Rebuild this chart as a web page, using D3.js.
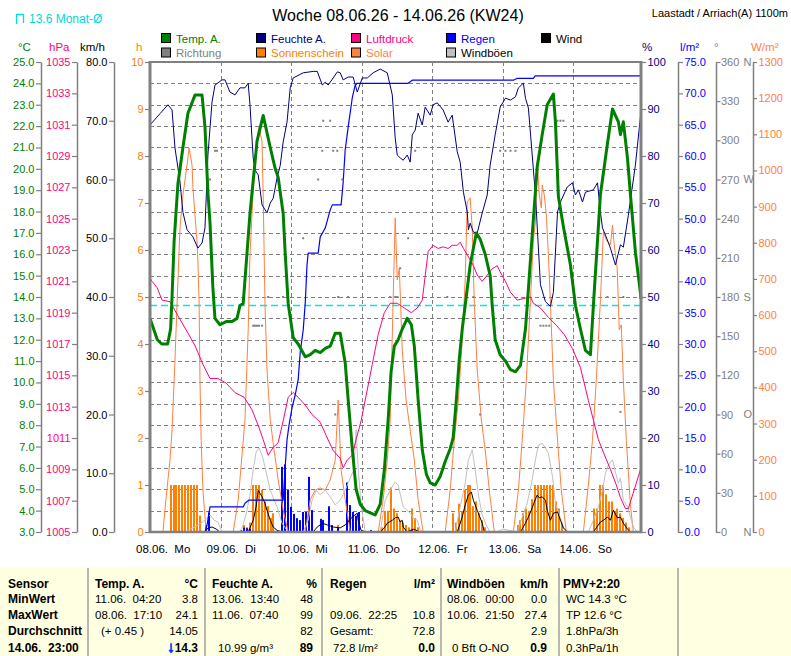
<!DOCTYPE html>
<html><head><meta charset="utf-8">
<script src="https://cdn.jsdelivr.net/npm/d3@7"></script>
<style>
body{margin:0;background:#fff}
svg{display:block}
text{font-family:"Liberation Sans",Arial,sans-serif;white-space:pre}
</style>
</head><body>
<svg id="c" width="791" height="656"></svg>
<script>
// ---------------- DATA ----------------
const dayLabels = ["08.06.  Mo","09.06.  Di","10.06.  Mi","11.06.  Do","12.06.  Fr","13.06.  Sa","14.06.  So"];
const tempTicks = d3.range(3, 25.001, 1);
const hpaTicks = d3.range(1005, 1035.001, 2);
const kmhTicks = d3.range(0, 80.001, 10);
const sunTicks = d3.range(0, 10.001, 1);
const humTicks = d3.range(0, 100.001, 10);
const rainTicks = d3.range(0, 75.001, 5);
const dirTicks = d3.range(0, 360.001, 30);
const solTicks = d3.range(0, 1300.001, 100);
const dirLetters = [[360,"N"],[270,"W"],[180,"S"],[90,"O"],[0,"N"]];
const monthAvgTemp = 13.6;

// [hour since 08.06. 00:00, value]
const tempA = [[0,13.0],[1,12.6],[2.5,12.0],[4,11.8],[6,11.8],[7,12.5],[7.5,14.0],[8.2,16.6],[9.5,19.3],[11.2,21.0],[12.9,22.6],[15.3,23.45],[17.7,23.45],[18.7,21.95],[19.7,18.9],[20.4,17.5],[21.4,14.4],[22.1,13.0],[23.8,12.7],[25.9,12.85],[27.9,12.85],[29.6,13.0],[30.6,13.6],[31.7,13.7],[34.0,17.9],[36.4,21.3],[38.5,22.5],[40.9,21.0],[42.6,20.0],[43.6,19.6],[45.3,17.9],[46.0,16.0],[47.0,13.7],[48.7,12.1],[50.4,11.8],[52.8,11.2],[54.5,11.3],[56.2,11.5],[57.9,11.4],[59.6,11.6],[61.3,11.7],[63.0,12.3],[64.7,12.3],[66.4,10.9],[67.4,9.2],[68.8,6.9],[70.1,5.0],[71.5,4.3],[73.2,4.0],[74.9,3.9],[76.6,3.8],[78.3,4.3],[79.7,5.9],[81.0,8.25],[82.0,10.5],[83.1,11.7],[84.4,12.0],[85.8,12.5],[87.5,13.0],[88.9,12.7],[89.9,11.7],[91.2,9.2],[92.6,6.85],[94.0,5.7],[95.3,5.3],[97.0,5.2],[98.7,5.6],[100.4,6.3],[102.1,6.9],[103.1,7.4],[104.2,9.2],[105.2,11.1],[106.2,12.5],[107.2,13.6],[108.9,15.5],[111.0,17.0],[112.3,16.7],[114.0,16.0],[115.7,15.0],[116.4,13.6],[117.4,12.0],[119.1,11.3],[120.9,11.0],[122.6,10.6],[124.3,10.5],[126.0,10.8],[127.7,12.5],[128.3,13.6],[130.0,16.9],[131.7,20.1],[133.4,21.6],[135.1,23.0],[137.2,23.5],[137.9,22.2],[138.9,18.7],[140.6,17.3],[143.0,15.5],[144.7,13.6],[146.4,12.5],[148.1,11.5],[149.8,11.3],[150.8,13.6],[153.2,18.8],[155.6,21.2],[157.3,22.8],[159.3,22.2],[160.0,21.6],[161.0,22.2],[162.4,20.5],[163.4,18.8],[165.1,16.1],[166.8,14.2],[167,13.9]];

const humidity = [[0,86.6],[3.4,89],[6.1,90.9],[7.5,89.8],[8.5,81.7],[10.2,74.5],[11.2,68],[12.6,64.3],[14.6,62.8],[16.3,60.4],[17.7,61.5],[18.7,64.7],[19.7,80.2],[21.1,91.5],[22.1,95.1],[24.5,96.2],[25.5,96.2],[27.2,93.6],[28.9,93],[30.6,94.5],[32.3,94.5],[33.4,95.5],[34.0,90.9],[35.1,79.6],[35.7,77],[36.8,76],[38.1,69.6],[39.8,67.9],[40.9,70],[41.9,71],[43.2,75.3],[44.3,78],[45.3,83],[46.6,87.2],[47.7,94.5],[48.7,96.6],[52.1,97.7],[55.5,98],[56.9,98],[58.6,95.1],[59.6,95.7],[60.6,95.1],[62.3,96.6],[63.7,97.9],[64.7,97.7],[65.7,96.2],[67.4,96.8],[69.1,96.8],[70.5,93.6],[72.2,96.6],[73.9,96.6],[75.9,97.7],[78.3,98.5],[80.7,97.7],[82.4,93],[83.4,83.8],[84.1,80.2],[85.1,79.6],[86.1,79.1],[87.5,80.2],[88.5,78.7],[89.2,84.5],[90.2,85.5],[91.2,89.1],[92.6,86.6],[93.6,90.4],[95.3,88.7],[96.3,90.9],[97.7,91.3],[99.7,89.8],[101.4,87.2],[102.8,88.7],[103.1,87.2],[104.5,80.9],[105.5,78.7],[106.6,72.3],[107.9,68.1],[108.3,64.3],[108.9,65.7],[110.0,63.8],[111.3,63.6],[113.0,67.9],[114.7,71.7],[115.7,78.1],[117.4,84.5],[119.1,90.4],[120.9,92.3],[122.6,91.9],[124.3,92.6],[125.3,94.5],[127.0,95.5],[127.7,92.3],[128.7,90.2],[130.0,80.2],[131.1,71.7],[132.8,52.6],[134.5,49],[136.2,48],[137.2,51],[138.6,68.1],[139.6,70.2],[141.9,73.4],[143.7,74.3],[144.7,71.7],[145.7,72.8],[147.1,70.2],[148.1,72.3],[150.8,72.8],[152.2,74.3],[153.2,68.1],[153.9,64.7],[154.9,63.2],[156.6,60.4],[158.3,56.8],[160.0,61.1],[161.0,60.6],[162.7,67.4],[165.1,78.1],[166.8,88.3],[167,89]];

const pressure = [[0,1021.2],[0.7,1021.0],[2.4,1020.6],[4.1,1019.8],[6.8,1019.7],[9.5,1018.8],[12.3,1017.9],[15.3,1016.9],[18.0,1015.7],[20.4,1014.8],[23.1,1014.8],[25.9,1014.5],[28.9,1013.9],[32.0,1013.6],[34.7,1012.8],[36.8,1011.8],[38.5,1010.9],[40.2,1009.9],[41.9,1010.4],[43.6,1010.7],[45.3,1012.1],[47.0,1013.6],[48.7,1013.9],[50.4,1013.6],[52.8,1013.1],[55.1,1012.5],[57.9,1012.0],[60.3,1011.0],[62.3,1010.2],[64.7,1009.7],[65.7,1009.1],[67.1,1009.6],[68.8,1009.9],[70.1,1010.9],[71.8,1012.1],[73.5,1013.7],[75.6,1015.7],[77.6,1017.6],[79.7,1019.0],[81.7,1019.6],[84.1,1019.6],[86.5,1019.3],[88.9,1019.0],[90.9,1019.3],[92.6,1019.8],[94.6,1022.9],[96.3,1023.3],[98.0,1023.1],[99.7,1023.2],[101.4,1023.1],[102.8,1023.3],[104.5,1023.3],[105.5,1023.5],[106.6,1023.1],[107.9,1022.7],[110.0,1022.0],[111.3,1021.4],[113.0,1021.0],[114.7,1021.4],[116.4,1021.8],[118.1,1022.0],[119.1,1021.6],[120.9,1021.0],[122.6,1020.3],[124.9,1019.8],[127.0,1019.9],[129.4,1020.0],[130.4,1019.6],[132.8,1019.3],[135.5,1018.7],[138.2,1018.2],[140.9,1017.6],[143.7,1016.7],[146.4,1015.5],[149.1,1013.4],[152.5,1010.9],[154.6,1009.9],[156.6,1009.0],[158.6,1008.0],[160.0,1007.2],[161.7,1006.5],[162.7,1006.5],[164.7,1007.7],[167,1009.1]];

const solar = [[0,0],[4.4,0],[5.4,89],[6.8,199],[7.5,282],[8.5,476],[9.2,633],[10.2,841],[11.2,932],[12.6,1015],[13.3,1062],[14.3,1015],[14.6,952],[15.3,877],[16.0,802],[16.3,747],[16.7,633],[17.0,420],[17.4,254],[18.0,116],[19.1,0],
 [28.3,0],[30.0,89],[31.3,213],[32.3,310],[33.4,559],[34.0,766],[35.1,946],[35.7,996],[36.8,1107],[37.1,1120],[38.1,1079],[38.5,932],[39.1,633],[39.8,448],[40.9,310],[42.2,227],[43.6,144],[45.3,61],[47.0,0],
 [52.8,0],[54.5,89],[56.2,116],[57.9,122],[59.6,116],[61.3,144],[63.0,199],[64.0,365],[65.0,171],[66.4,89],[68.1,0],
 [77.6,0],[79.3,89],[80.7,199],[81.7,310],[82.7,642],[83.4,869],[84.1,697],[84.8,730],[85.8,503],[87.1,365],[88.5,282],[89.9,199],[91.2,89],[92.9,0],
 [100.4,0],[102.1,116],[103.5,254],[104.9,365],[106.2,531],[107.2,697],[107.9,913],[108.9,924],[109.6,841],[110.3,633],[111.3,448],[112.7,310],[114.0,227],[115.4,116],[117.1,0],
 [123.6,0],[125.3,116],[126.6,254],[128.0,420],[129.4,642],[130.4,808],[131.1,858],[131.7,1024],[132.4,932],[133.1,896],[133.4,960],[134.1,932],[134.8,877],[135.5,766],[136.2,633],[137.2,420],[138.6,254],[139.9,116],[141.6,0],
 [147.4,0],[149.1,130],[150.5,254],[151.8,420],[153.2,642],[154.2,830],[155.2,808],[156.6,794],[157.3,849],[157.9,794],[158.9,730],[159.6,559],[160.3,573],[161.0,420],[162.0,254],[163.4,75],[164.4,0],[167,0]];

const sunshine = [[7,1],[8,1],[9,1],[10,1],[11,1],[12,1],[13,1],[14,1],[15,1],[16,1],[17,0.35],
 [32,0.15],[33,0.1],[34,0.2],[35,1],[36,1],[37,1],[38,0.9],[39,0.65],[40,0.55],[41,0.3],[42,0.4],
 [64,0.15],
 [79,0.1],[80,0.45],[81,0.45],[82,0.95],[83,0.5],[84,0.4],[85,0.25],[86,0.2],[87,0.15],[88,0.1],[89,0.5],[90,0.3],[91,0.1],
 [103,0.4],[104,0.2],[105,0.6],[106,0.45],[107,0.9],[108,1],[109,1],[110,0.55],[111,0.65],[112,0.4],[113,0.25],[114,0.1],
 [125,0.15],[126,0.25],[127,0.4],[128,0.5],[129,0.45],[130,0.7],[131,1],[132,1],[133,1],[134,1],[135,1],[136,1],[137,1],[138,0.65],[139,0.5],[140,0.2],
 [151,0.5],[152,0.5],[153,1],[154,1],[155,0.8],[156,0.65],[157,0.65],[158,0.45],[159,0.5],[160,0.4],[161,0.3],[162,0.2],[163,0.1]];

const rain = [[19,1.1],[20,3.1],[31,0.3],[32,0.7],[33,0.6],[34,0.5],[45,10.4],[46,10.8],[47,6.8],[48,4.0],[49,2.9],[50,2.2],[51,1.9],[52,3.2],[53,3.2],[54,8.8],[55,3.5],[58,2.1],[59,1.9],[61,4.1],[62,1.1],[64,0.7],[67,7.9],[68,4.3],[69,3.2],[70,2.6],[71,3.2],[75,0.3],[89,0.3],[111,0.2],[133,0.2]];

const rainTotal = [[0,0],[18.7,0],[19.4,1.1],[20.4,4.0],[31.7,4.0],[32.3,4.6],[33.7,5.1],[45.3,5.1],[46.0,10.5],[46.6,14.7],[47.3,17.1],[48.3,19.8],[49.4,21.9],[50.4,24.3],[51.1,28.7],[52.1,32.2],[52.8,36.5],[53.4,42.6],[53.8,44.5],[57.2,44.5],[57.9,47.1],[59.6,48.5],[61.3,51.4],[62.0,52.2],[65.0,52.2],[65.7,55.8],[66.4,61.0],[67.4,64.6],[68.8,69.3],[69.8,71.3],[70.5,71.6],[87.8,71.6],[89.2,72.1],[123.6,72.1],[124.9,72.4],[130.4,72.4],[131.0,72.8],[167,72.8]];

const wind = [[0,0],[18.7,0],[19.7,0.7],[21.1,0.85],[22.5,0.5],[23.8,0],
 [33.4,0],[35.1,2.0],[36.1,4.3],[36.8,7.1],[38.1,6.0],[39.1,4.9],[39.8,3.7],[40.9,2.0],[41.9,0.85],[43.2,0.3],[44.9,0],
 [55.5,0],[56.9,0.85],[58.6,1.5],[60.3,1.2],[62.3,0.85],[64.7,0.7],[66.4,1.2],[68.8,2.55],[70.5,3.2],[70.8,2.0],[71.8,0.3],[73.5,0],
 [78.3,0],[79.7,0.7],[80.7,1.5],[82.4,2.0],[83.4,2.4],[84.4,2.55],[85.1,1.7],[85.8,2.0],[86.1,0.85],[87.5,0],[89.5,0.5],[91.9,0],
 [104.5,0],[106.2,2.55],[107.2,4.6],[108.3,6.3],[109.3,6.8],[110.0,5.4],[111.3,3.7],[112.3,2.4],[113.0,1.5],[113.7,0],
 [126.0,0],[127.7,1.5],[128.7,2.55],[130.0,4.1],[130.7,5.1],[131.7,6.3],[132.4,5.8],[133.4,6.0],[134.5,5.4],[135.1,3.7],[136.2,2.0],[137.2,3.2],[138.6,3.4],[139.6,2.0],[140.6,0.7],[142.0,0],
 [150.8,0],[153.2,1.7],[154.2,2.0],[155.6,2.55],[156.6,2.0],[157.6,3.7],[159.0,2.4],[160.0,2.55],[161.0,1.5],[162.4,0.5],[163.4,0],[167,0]];

const gusts = [[0,0],[11.9,0],[15.3,0.85],[17.0,1.4],[18.7,2.0],[20.4,2.9],[21.8,2.0],[23.1,1.7],[24.5,0],
 [30.6,0],[31.7,1.2],[33.0,3.7],[34.0,6.3],[35.1,10.6],[36.1,13.6],[37.1,14.3],[38.1,13.1],[39.1,11.1],[40.9,7.1],[43.2,4.3],[44.9,1.5],[47.0,0],
 [52.1,0],[53.8,2.0],[55.1,5.4],[56.5,7.1],[57.9,6.3],[59.6,7.1],[61.3,6.0],[63.0,4.6],[64.7,5.4],[66.4,7.1],[68.1,9.2],[69.4,10.6],[70.1,17.4],[70.8,10.9],[71.8,4.6],[73.2,0],
 [78.3,0],[80.0,5.4],[81.7,7.1],[83.4,8.5],[84.4,8.0],[86.1,4.3],[88.5,3.2],[89.5,2.4],[90.9,2.0],[91.9,0.3],[93.3,0],
 [103.8,0],[105.5,4.3],[107.2,8.3],[108.3,12.3],[109.6,14.0],[110.6,10.6],[111.7,6.3],[113.0,2.9],[114.7,0.85],[115.7,0],
 [118,0],[120,0.5],[122,0.3],[125.0,0],[126.6,2.55],[128.3,4.9],[130.0,8.9],[131.1,12.3],[132.1,14.8],[133.4,15.1],[134.5,14.3],[135.5,13.4],[136.9,9.4],[137.9,4.9],[139.6,2.4],[140.6,0.85],[142.0,0],
 [149.1,0],[150.8,2.0],[152.5,4.3],[153.9,7.1],[154.9,10.0],[155.9,11.4],[157.3,12.3],[158.3,10.2],[159.3,8.3],[160.0,9.2],[161.0,5.4],[162.4,4.3],[163.4,2.55],[164.4,0.85],[165.8,0],[167,0]];

const direction = [[20.4,270],[22.1,292],[22.8,292],[35.1,158],[35.7,158],[36.4,158],[37.1,158],[38.1,158],[40.2,180],[45.3,180],[52.1,225],[57.2,270],[58.6,292],[58.9,315],[61.3,315],[62.3,292],[63.7,292],[65.4,270],[66.4,292],[64.0,180],[67.4,180],[63.0,90],[81.7,180],[83.4,180],[84.1,180],[85.1,202],[87.8,225],[90.2,292],[101.1,180],[110.0,180],[112.3,90],[119.1,292],[120.9,292],[122.6,292],[124.3,292],[132.8,158],[133.8,158],[134.8,158],[135.8,158],[138.6,315],[139.6,315],[140.6,315],[155.6,180],[161.0,180],[160.0,92]];

const legendItems = [
 ["Temp. A.","#008000","#008000",0,0],["Richtung","#808080","#808080",0,1],
 ["Feuchte A.","#000080","#000080",1,0],["Sonnenschein","#FF8000","#FF8000",1,1],
 ["Luftdruck","#FF0080","#FF0080",2,0],["Solar","#FF8040","#FF8040",2,1],
 ["Regen","#0000FF","#0000FF",3,0],["Windböen","#C0C0C0","#000000",3,1],
 ["Wind","#000000","#000000",4,0]];

// table: [text, x, row, anchor, bold]
const tableCells = [
 ["Sensor",8,0,"start",1],["MinWert",8,1,"start",1],["MaxWert",8,2,"start",1],["Durchschnitt",8,3,"start",1],["14.06.  23:00",8,4,"start",1],
 ["Temp. A.",95,0,"start",1],["°C",198,0,"end",1],
 ["11.06.  04:20",95,1,"start",0],["3.8",198,1,"end",0],
 ["08.06.  17:10",95,2,"start",0],["24.1",198,2,"end",0],
 ["(+ 0.45 )",101,3,"start",0],["14.05",198,3,"end",0],
 ["Feuchte A.",212,0,"start",1],["%",317,0,"end",1],
 ["13.06.  13:40",212,1,"start",0],["48",313,1,"end",0],
 ["11.06.  07:40",212,2,"start",0],["99",313,2,"end",0],
 ["82",313,3,"end",0],["10.99 g/m³",218,4,"start",0],["89",313,4,"end",1],
 ["Regen",330,0,"start",1],["l/m²",435,0,"end",1],
 ["09.06.  22:25",330,2,"start",0],["10.8",435,2,"end",0],
 ["Gesamt:",330,3,"start",0],["72.8",435,3,"end",0],
 ["72.8 l/m²",333,4,"start",0],["0.0",435,4,"end",1],
 ["Windböen",447,0,"start",1],["km/h",548,0,"end",1],
 ["08.06.  00:00",447,1,"start",0],["0.0",547,1,"end",0],
 ["10.06.  21:50",447,2,"start",0],["27.4",547,2,"end",0],
 ["2.9",547,3,"end",0],["0 Bft O-NO",452,4,"start",0],["0.9",547,4,"end",1],
 ["PMV+2:20",563,0,"start",1],["WC 14.3 °C",566,1,"start",0],["TP 12.6 °C",566,2,"start",0],
 ["1.8hPa/3h",566,3,"start",0],["0.3hPa/1h",566,4,"start",0]];
const tableSeps = [88,205,322,441,559,678];
const rowY = [588,603,619,635,652];

// ---------------- DRAW ----------------
const svg = d3.select("#c");
const FONT = '"Liberation Sans",Arial,sans-serif';
const L = 150, R = 641, T = 62, B = 532;
const x = d3.scaleLinear().domain([0,167]).range([L,R]);
const yT = d3.scaleLinear().domain([3,25]).range([B,T]);
const yP = d3.scaleLinear().domain([1005,1035]).range([B,T]);
const yK = d3.scaleLinear().domain([0,80]).range([B,T]);
const yS = d3.scaleLinear().domain([0,10]).range([B,T]);
const yH = d3.scaleLinear().domain([0,100]).range([B,T]);
const yR = d3.scaleLinear().domain([0,75]).range([B,T]);
const yD = d3.scaleLinear().domain([0,360]).range([B,T]);
const yW = d3.scaleLinear().domain([0,1300]).range([B,T]);

svg.append("rect").attr("width",791).attr("height",656).attr("fill","#fff");

// header
svg.append("text").attr("x",398).attr("y",21).attr("text-anchor","middle").attr("font-size",16).text("Woche 08.06.26 - 14.06.26 (KW24)");
svg.append("text").attr("x",788).attr("y",17).attr("text-anchor","end").attr("font-size",11).text("Laastadt / Arriach(A) 1100m");
svg.append("path").attr("d","M16.5,24 V14.5 H23.5 V23").attr("fill","none").attr("stroke","#00E0E0").attr("stroke-width",1.3);
svg.append("text").attr("x",29).attr("y",23).attr("font-size",12).attr("fill","#00D8D8").text("13.6 Monat-Ø");

// legend
const lcx = [161,256,351,446,541];
legendItems.forEach(([lab,fill,tc,c,r])=>{
  const bx = lcx[c], by = r===0?33:47.5;
  svg.append("rect").attr("x",bx+0.5).attr("y",by+0.5).attr("width",9).attr("height",9).attr("fill",fill).attr("stroke","#000");
  svg.append("text").attr("x",bx+15).attr("y",by+9.5).attr("font-size",11.5).attr("fill",tc).text(lab);
});

// unit labels
[["°C",18,"#008000"],["hPa",49,"#FF0080"],["km/h",80,"#000"],["h",136,"#FF8000"],["%",642,"#000080"],["l/m²",680,"#0000FF"],["°",714,"#808080"],["W/m²",751,"#FF8040"]]
 .forEach(([t,xx,c])=>svg.append("text").attr("x",xx).attr("y",51).attr("font-size",11.5).attr("fill",c).text(t));

// grid
const grid = svg.append("g").attr("stroke","#808080").attr("stroke-dasharray","4,3").attr("stroke-width",1);
tempTicks.slice(1,-1).forEach(v=>grid.append("line").attr("x1",L).attr("x2",R).attr("y1",Math.round(yT(v))+0.5).attr("y2",Math.round(yT(v))+0.5));
for(let i=1;i<7;i++){ const xx=Math.round(x(24*i))+0.5; grid.append("line").attr("x1",xx).attr("x2",xx).attr("y1",T).attr("y2",B); }

// month average line
svg.append("line").attr("x1",L).attr("x2",R).attr("y1",yT(monthAvgTemp)).attr("y2",yT(monthAvgTemp))
  .attr("stroke","#00E8E8").attr("stroke-width",1.5).attr("stroke-dasharray","7,4");

// sunshine bars
svg.append("g").selectAll("rect").data(sunshine).join("rect")
  .attr("x",d=>Math.round(x(d[0]))-1).attr("width",2)
  .attr("y",d=>yS(d[1])).attr("height",d=>B-yS(d[1])).attr("fill","#FF8000");
// rain bars
svg.append("g").selectAll("rect").data(rain).join("rect")
  .attr("x",d=>Math.round(x(d[0]))-1).attr("width",2)
  .attr("y",d=>yR(d[1])).attr("height",d=>B-yR(d[1])).attr("fill","#0000FF");

function line(data, ys, color, w){
  svg.append("path").datum(data).attr("fill","none").attr("stroke",color).attr("stroke-width",w)
   .attr("stroke-linejoin","round").attr("d",d3.line().x(d=>x(d[0])).y(d=>ys(d[1])));
}
line(solar, yW, "#FF8040", 1);
line(gusts, yK, "#C0C0C0", 1);
line(wind, yK, "#000000", 1);
line(pressure, yP, "#FF0080", 1);
line(humidity, yH, "#000080", 1);
line(rainTotal, yR, "#0000FF", 1.2);

// direction dots
svg.append("g").selectAll("rect").data(direction).join("rect")
  .attr("x",d=>x(d[0])-1).attr("y",d=>yD(d[1])-1).attr("width",2).attr("height",2).attr("fill","#808080");

line(tempA, yT, "#008000", 3);

// frame
const fr = svg.append("g").attr("stroke","#808080");
fr.append("line").attr("x1",L).attr("x2",R).attr("y1",T).attr("y2",T).attr("stroke-width",2);
fr.append("line").attr("x1",L-1).attr("x2",R+1).attr("y1",B).attr("y2",B).attr("stroke-width",2.5);
fr.append("line").attr("x1",L).attr("x2",L).attr("y1",T-1).attr("y2",B+1).attr("stroke-width",3);
fr.append("line").attr("x1",R).attr("x2",R).attr("y1",T-1).attr("y2",B+1).attr("stroke-width",3);

// axes
function axis(scale, xpos, side, ticks, fmt, color, tsize, lineW, pad){
  const a = (side==="left"?d3.axisLeft(scale):d3.axisRight(scale)).tickValues(ticks).tickFormat(fmt).tickSize(tsize).tickSizeOuter(0).tickPadding(pad===undefined?1.5:pad);
  const g = svg.append("g").attr("transform",`translate(${xpos},0)`).call(a);
  g.select(".domain").attr("stroke", lineW? "#808080":"none").attr("stroke-width",lineW||0);
  g.selectAll(".tick line").attr("stroke","#808080").attr("stroke-width",1.2);
  g.selectAll(".tick text").attr("fill",color).attr("font-size",11).attr("font-family",FONT);
  return g;
}
const f1 = d3.format(".1f"), f0 = d3.format("d");
axis(yT, 41, "left", tempTicks, f1, "#008000", 5, 1.5);
axis(yP, 77, "left", hpaTicks, f0, "#FF0080", 5, 1.5);
axis(yK, 114, "left", kmhTicks, f1, "#000000", 5, 1.5);
axis(yS, L-1, "left", sunTicks, f0, "#FF8000", 4, 0);
axis(yH, R+1, "right", humTicks, f0, "#000080", 4, 0);
axis(yR, 678, "right", rainTicks, f1, "#0000FF", 5, 1.5);
axis(yD, 716, "right", dirTicks, f0, "#808080", 4.5, 1.5, 0.5);
axis(yW, 753, "right", solTicks, f0, "#FF8040", 4, 1.5);
dirLetters.forEach(([v,l])=>svg.append("text").attr("x",743.5).attr("y",yD(v)).attr("dy","0.34em").attr("font-size",11).attr("fill","#808080").text(l));

// x labels
dayLabels.forEach((t,i)=>svg.append("text").attr("x",x(24*i)-14).attr("y",553).attr("font-size",11.5).text(t));

// table
svg.append("rect").attr("x",0).attr("y",567).attr("width",791).attr("height",89).attr("fill","#FFFFE1");
tableSeps.forEach(s=>svg.append("line").attr("x1",s).attr("x2",s).attr("y1",568).attr("y2",656).attr("stroke","#A0A0A0").attr("stroke-width",1.5));
tableCells.forEach(([t,xx,r,anc,b])=>svg.append("text").attr("x",xx).attr("y",rowY[r]).attr("text-anchor",anc)
  .attr("font-size",b?12:11.5).attr("font-weight",b?"bold":"normal").text(t));
const cur = svg.append("text").attr("x",198).attr("y",rowY[4]).attr("text-anchor","end").attr("font-weight","bold");
cur.append("tspan").attr("fill","#0040FF").attr("stroke","#0040FF").attr("stroke-width",0.9).attr("font-size",15).text("↓");
cur.append("tspan").attr("fill","#000").attr("font-size",12).text("14.3");
</script>
</body></html>
